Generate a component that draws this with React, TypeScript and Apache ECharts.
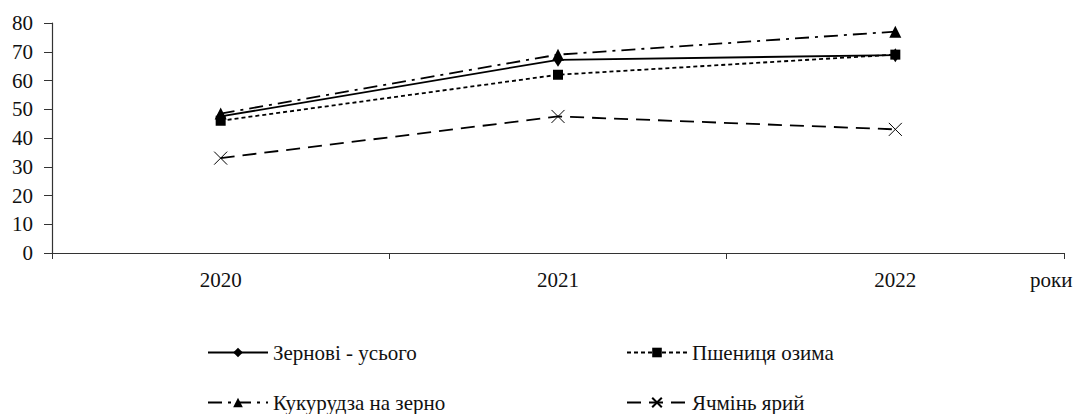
import React, { useEffect, useRef } from "react";
import * as echarts from "echarts";

const years = ["2020", "2021", "2022"];
const seriesNames = ["Зернові - усього", "Пшениця озима", "Кукурудза на зерно", "Ячмінь ярий"];
const grainTotal = [47.5, 67.2, 68.8];
const winterWheat = [46, 62, 69];
const corn = [48.5, 69, 77];
const springBarley = [33, 47.5, 43];
const yTicks = { min: 0, max: 80, interval: 10 };
const axisUnit = "роки";

const FONT = "Liberation Serif";
const CROSS = "path://M0,0L10,10M10,0L0,10";

export default function App() {
  const ref = useRef<HTMLDivElement>(null);
  useEffect(() => {
    if (!ref.current) return;
    const chart = echarts.init(ref.current, undefined, { renderer: "svg" });
    const lineBase = (name: string, data: number[], type: any, symbol: string, size: any, width = 1.8) => ({
      name,
      type: "line",
      data,
      symbol,
      symbolSize: size,
      showSymbol: true,
      lineStyle: { color: "#000", width, type },
      itemStyle: { color: "#000" },
      emphasis: { disabled: true },
    });
    const legendCommon = {
      itemWidth: 60,
      itemHeight: 12,
      itemGap: 0,
      padding: 0,
      textStyle: { fontFamily: FONT, fontSize: 21, color: "#111" },
      selectedMode: false,
    };
    chart.setOption({
      animation: false,
      backgroundColor: "#fff",
      textStyle: { fontFamily: FONT },
      grid: { left: 52, right: 13, top: 23, bottom: 161, containLabel: false },
      xAxis: {
        type: "category",
        data: years,
        boundaryGap: true,
        axisLine: { lineStyle: { color: "#333", width: 1.2 } },
        axisTick: { show: true, length: 6, lineStyle: { color: "#333" } },
        axisLabel: { fontFamily: FONT, fontSize: 21, color: "#111", margin: 16 },
        splitLine: { show: false },
      },
      yAxis: {
        type: "value",
        min: yTicks.min,
        max: yTicks.max,
        interval: yTicks.interval,
        axisLine: { show: true, lineStyle: { color: "#333", width: 1.2 } },
        axisTick: { show: true, length: 8, lineStyle: { color: "#333" } },
        axisLabel: { fontFamily: FONT, fontSize: 21, color: "#111", margin: 19 },
        splitLine: { show: false },
      },
      graphic: [
        {
          type: "text",
          left: 1030,
          top: 269,
          style: { text: axisUnit, fontFamily: FONT, fontSize: 21, fill: "#111" },
        },
      ],
      legend: [
        { ...legendCommon, data: [seriesNames[0]], left: 207, top: 342 },
        { ...legendCommon, data: [seriesNames[1]], left: 626, top: 342 },
        { ...legendCommon, data: [seriesNames[2]], left: 207, top: 392 },
        { ...legendCommon, data: [seriesNames[3]], left: 626, top: 392 },
      ],
      series: [
        lineBase(seriesNames[3], springBarley, [14, 8], CROSS, 13, 1.8),
        lineBase(seriesNames[2], corn, [14, 6, 3, 6], "triangle", 12, 1.8),
        lineBase(seriesNames[0], grainTotal, "solid", "diamond", [9, 14], 1.8),
        lineBase(seriesNames[1], winterWheat, [4, 3], "rect", 10, 1.8),
      ].map((s: any) =>
        s.symbol === CROSS
          ? { ...s, itemStyle: { color: "none", borderColor: "#000", borderWidth: 1 } }
          : s
      ),
    });
    return () => chart.dispose();
  }, []);
  return (
    <div
      ref={ref}
      style={{ position: "fixed", left: 0, top: 0, width: 1077, height: 414, background: "#fff" }}
    />
  );
}
